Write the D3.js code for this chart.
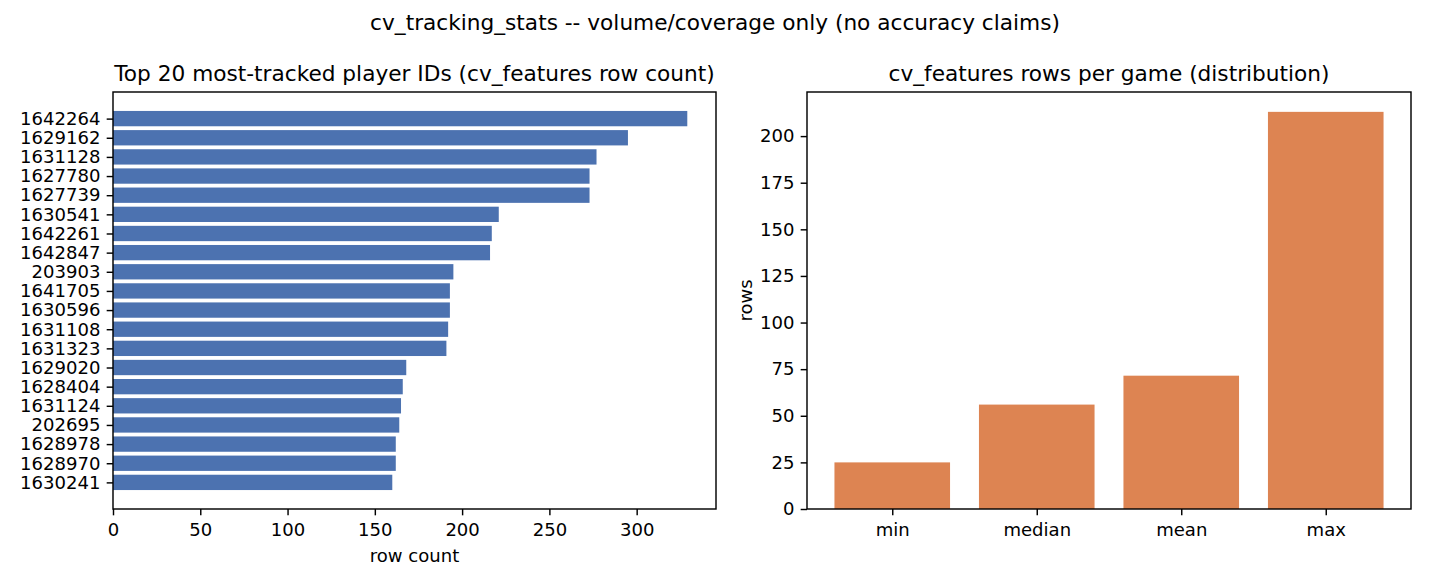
<!DOCTYPE html>
<html>
<head>
<meta charset="utf-8">
<script src="https://cdn.jsdelivr.net/npm/d3@7"></script>
<style>
    body { margin: 0; background: #fff; }
    text { font-family: "DejaVu Sans", sans-serif; fill: #000; }
</style>
</head>
<body>
<div id="chart"></div>
<script>
"use strict"

// Left panel: top 20 player IDs by cv_features row count
const playerIds = [
    "1642264", "1629162", "1631128", "1627780", "1627739",
    "1630541", "1642261", "1642847", "203903", "1641705",
    "1630596", "1631108", "1631323", "1629020", "1628404",
    "1631124", "202695", "1628978", "1628970", "1630241"
]
const rowCounts = [
    329, 295, 277, 273, 273,
    221, 217, 216, 195, 193,
    193, 192, 191, 168, 166,
    165, 164, 162, 162, 160
]
const xTicksLeft = [0, 50, 100, 150, 200, 250, 300]

// Right panel: rows per game summary
const statNames = ["min", "median", "mean", "max"]
const statValues = [25, 56, 71.5, 213]
const yTicksRight = [0, 25, 50, 75, 100, 125, 150, 175, 200]

const size = { width: 1430, height: 585 }
const pt = 130 / 72
const fontPx = 10 * pt
const tickLen = 3.5 * pt
const tickPad = 3.5 * pt
const lineW = 0.8 * pt

const svg = d3.select("#chart")
    .append("svg")
    .attr("width", size.width)
    .attr("height", size.height)

svg.append("text")
    .attr("x", size.width / 2)
    .attr("y", 30)
    .attr("text-anchor", "middle")
    .style("font-size", `${12 * pt}px`)
    .text("cv_tracking_stats -- volume/coverage only (no accuracy claims)")

/**
 * Style a d3 axis group the matplotlib way.
 */
function styleAxis(g) {
    g.select(".domain").remove()
    g.selectAll(".tick line").attr("stroke", "#000").attr("stroke-width", lineW)
    g.selectAll(".tick text")
        .style("font-size", `${fontPx}px`)
        .style("font-family", "DejaVu Sans, sans-serif")
        .attr("fill", "#000")
}

function drawFrame(g, w, h) {
    g.append("rect")
        .attr("width", w)
        .attr("height", h)
        .attr("fill", "none")
        .attr("stroke", "#000")
        .attr("stroke-width", lineW)
}

function drawTitle(g, w, text) {
    g.append("text")
        .attr("x", w / 2)
        .attr("y", -11)
        .attr("text-anchor", "middle")
        .style("font-size", `${12 * pt}px`)
        .text(text)
}

// ---- left panel ----
{
    const box = { left: 113, top: 92, width: 603, height: 417 }
    const g = svg.append("g").attr("transform", `translate(${box.left}, ${box.top})`)

    const xMax = d3.max(rowCounts) * 1.05
    const x = d3.scaleLinear().domain([0, xMax]).range([0, box.width])
    // bar positions 0..n-1, height 0.8, 5% margins like matplotlib
    const n = playerIds.length
    const lo = -0.4, hi = n - 1 + 0.4, pad = (hi - lo) * 0.05
    const y = d3.scaleLinear().domain([lo - pad, hi + pad]).range([0, box.height])

    g.selectAll(".bar")
        .data(rowCounts)
        .enter()
        .append("rect")
        .classed("bar", true)
        .attr("x", x(0))
        .attr("y", (d, i) => y(i - 0.4))
        .attr("width", d => x(d) - x(0))
        .attr("height", y(0.8) - y(0))
        .attr("fill", "#4C72B0")

    g.append("g")
        .attr("transform", `translate(0, ${box.height})`)
        .call(d3.axisBottom(x).tickValues(xTicksLeft).tickFormat(d3.format("d"))
            .tickSize(tickLen).tickPadding(tickPad + 2))
        .call(styleAxis)

    g.append("g")
        .call(d3.axisLeft(y).tickValues(d3.range(n)).tickFormat(i => playerIds[i])
            .tickSize(tickLen).tickPadding(tickPad))
        .call(styleAxis)

    drawFrame(g, box.width, box.height)
    drawTitle(g, box.width, "Top 20 most-tracked player IDs (cv_features row count)")

    g.append("text")
        .attr("x", box.width / 2)
        .attr("y", box.height + 53)
        .attr("text-anchor", "middle")
        .style("font-size", `${fontPx}px`)
        .text("row count")
}

// ---- right panel ----
{
    const box = { left: 807, top: 92, width: 604, height: 417 }
    const g = svg.append("g").attr("transform", `translate(${box.left}, ${box.top})`)

    const n = statNames.length
    const lo = -0.4, hi = n - 1 + 0.4, pad = (hi - lo) * 0.05
    const x = d3.scaleLinear().domain([lo - pad, hi + pad]).range([0, box.width])
    const y = d3.scaleLinear().domain([0, d3.max(statValues) * 1.05]).range([box.height, 0])

    g.selectAll(".bar")
        .data(statValues)
        .enter()
        .append("rect")
        .classed("bar", true)
        .attr("x", (d, i) => x(i - 0.4))
        .attr("y", d => y(d))
        .attr("width", x(0.8) - x(0))
        .attr("height", d => y(0) - y(d))
        .attr("fill", "#DD8452")

    g.append("g")
        .attr("transform", `translate(0, ${box.height})`)
        .call(d3.axisBottom(x).tickValues(d3.range(n)).tickFormat(i => statNames[i])
            .tickSize(tickLen).tickPadding(tickPad + 2))
        .call(styleAxis)

    g.append("g")
        .call(d3.axisLeft(y).tickValues(yTicksRight).tickFormat(d3.format("d"))
            .tickSize(tickLen).tickPadding(tickPad))
        .call(styleAxis)

    drawFrame(g, box.width, box.height)
    drawTitle(g, box.width, "cv_features rows per game (distribution)")

    g.append("text")
        .attr("transform", `translate(${-55}, ${box.height / 2}) rotate(-90)`)
        .attr("text-anchor", "middle")
        .style("font-size", `${fontPx}px`)
        .text("rows")
}
</script>
</body>
</html>
